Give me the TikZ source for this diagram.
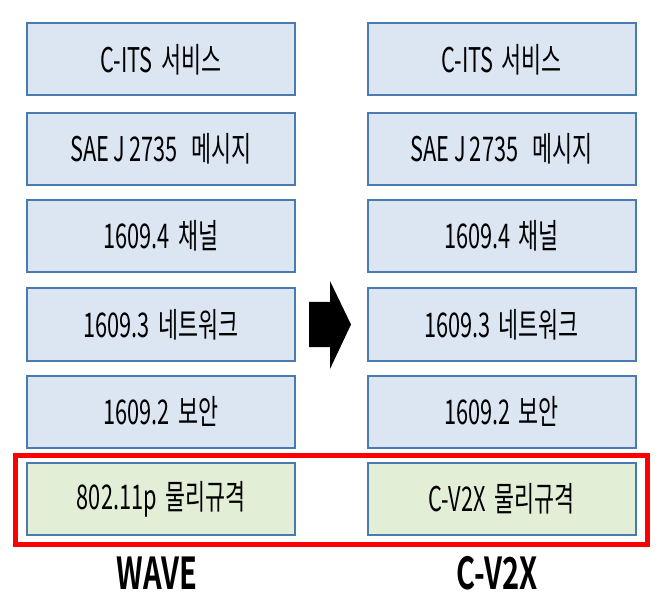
\documentclass[tikz,border=0pt]{standalone}
\usepackage{fontspec}
\newfontfamily\kr[FakeStretch=0.64,WordSpace=1.7]{Noto Sans CJK KR}
\newfontfamily\krbold[FakeStretch=0.66]{Noto Sans CJK KR Bold}
\definecolor{layerfill}{HTML}{DCE6F2}
\definecolor{phyfill}{HTML}{E3EED6}
\definecolor{layerline}{HTML}{4A7BB0}
\begin{document}
\begin{tikzpicture}[x=1pt,y=-1pt,
  layer/.style={draw=layerline, line width=2pt, fill=layerfill, minimum width=268pt, minimum height=72pt, inner sep=0pt, font=\kr\fontsize{34}{38}\selectfont},
  phy/.style={layer, fill=phyfill},
  stackname/.style={font=\krbold\fontsize{44}{48}\selectfont, inner sep=0pt}]
        \useasboundingbox (0,0) rectangle (664,612);
        % WAVE stack
        \node[layer] (w1) at (161,59.5) {C-ITS 서비스};
        \node[layer] (w2) at (161,149) {SAE\kern-4pt{} J\kern-4pt{} 2735\, 메시지};
        \node[layer] (w3) at (161,236) {1609.4 채널};
        \node[layer] (w4) at (161,324.5) {1609.3 네트워크};
        \node[layer] (w5) at (161,411.5) {1609.2 보안};
        \node[phy] (w6) at (161,499) {802.11p 물리규격};
        % C-V2X stack
        \node[layer] (c1) at (501.5,59.5) {C-ITS 서비스};
        \node[layer] (c2) at (501.5,149) {SAE\kern-4pt{} J\kern-4pt{} 2735\, 메시지};
        \node[layer] (c3) at (501.5,236) {1609.4 채널};
        \node[layer] (c4) at (501.5,324.5) {1609.3 네트워크};
        \node[layer] (c5) at (501.5,411.5) {1609.2 보안};
        \node[phy] (c6) at (501.5,499) {C-V2X 물리규격};
        % highlight of the physical layer
        \draw[red, line width=5pt] (15.5,455.5) rectangle (647.5,544.5);
        % block arrow
        \fill (309,302) -- (330,302) -- (330,281) -- (351,324.5) -- (330,369) -- (330,347) -- (309,347) -- cycle;
        \node[stackname] (wave) at (157,573) {WAVE};
        \node[stackname] (cv2x) at (497,573) {C-V2X};
\end{tikzpicture}
\end{document}
